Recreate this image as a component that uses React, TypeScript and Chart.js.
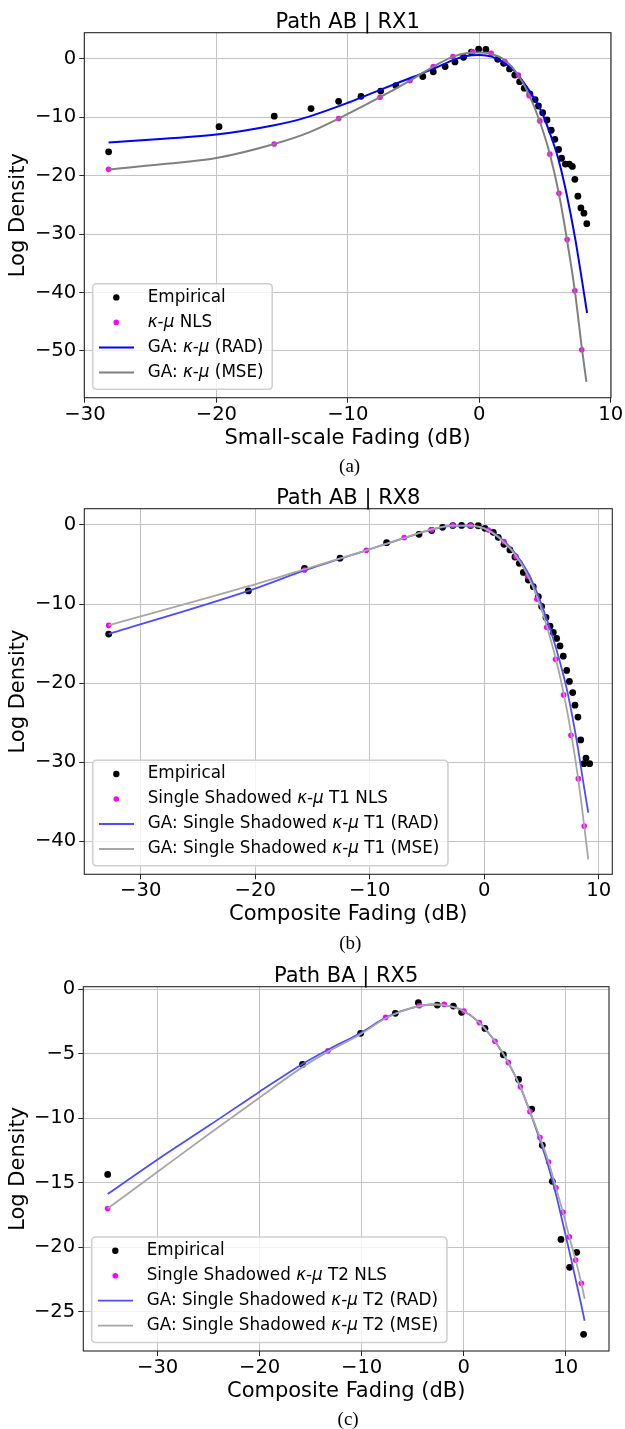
import React, { useEffect, useRef } from "react";
import { Chart, registerables } from "chart.js";

Chart.register(...registerables);

const SANS = '"DejaVu Sans", "Liberation Sans", sans-serif';
const SERIF = '"Liberation Serif", "DejaVu Serif", serif';

// ---------------- Panel (a) ----------------
const titleA = "Path AB | RX1";
const captionA = "(a)";
const xLabelA = "Small-scale Fading (dB)";
const xTicksA = [-30, -20, -10, 0, 10];
const yTicksA = [0, -10, -20, -30, -40, -50];
const labelsA = ["Empirical", "κ-μ NLS", "GA: κ-μ (RAD)", "GA: κ-μ (MSE)"];
const empAx = [-28.2, -19.8, -15.6, -12.8, -10.7, -9.0, -7.5, -6.35, -4.3, -3.5, -2.6, -1.85, -1.2, -0.6, -0.05, 0.5, 1.4, 1.85, 2.3, 2.7, 3.07, 3.42, 3.85, 4.25, 4.5, 4.82, 5.15, 5.47, 5.75, 6.03, 6.26, 6.55, 6.85, 7.08, 7.27, 7.5, 7.73, 7.96, 8.18];
const empAy = [-15.9, -11.6, -9.8, -8.5, -7.25, -6.4, -5.5, -4.55, -3.0, -2.2, -1.3, -0.5, 0.3, 1.15, 1.68, 1.63, -0.05, -0.75, -1.7, -2.75, -3.88, -5.0, -6.0, -6.95, -8.05, -9.2, -10.45, -12.2, -13.75, -15.5, -17.0, -18.0, -18.0, -18.4, -20.6, -23.5, -25.5, -26.4, -28.2];
const nlsAx = [-28.2, -15.6, -10.7, -7.55, -5.27, -3.5, -2.0, -0.5, 0.9, 1.95, 2.97, 3.8, 4.61, 5.37, 6.06, 6.68, 7.27, 7.8];
const nlsAy = [-18.9, -14.55, -10.2, -6.55, -3.7, -1.3, 0.4, 1.25, 0.97, -0.45, -2.74, -6.3, -10.6, -16.3, -23.0, -30.9, -39.7, -49.8];
const radAx = [-28.2, -24, -20, -15.6, -13.6, -10, -7.55, -5, -3.5, -2, -1, 0, 0.94, 1.82, 2.6, 3.34, 4.1, 4.73, 5.37, 6.0, 6.63, 7.3, 7.77, 8.2];
const radAy = [-14.3, -13.65, -12.95, -11.35, -10.3, -7.5, -5.3, -3.04, -1.7, -0.2, 0.5, 0.68, 0.4, -0.57, -1.9, -3.9, -6.45, -9.0, -12.7, -17.0, -23.0, -30.8, -37.3, -43.5];
const mseAx = [-28.2, -24, -20, -15.6, -13, -10.7, -7.55, -5.27, -3.5, -2, -1, 0, 0.94, 2.0, 2.94, 3.8, 4.6, 5.37, 6.05, 6.66, 7.27, 7.82, 8.15];
const mseAy = [-18.9, -18.0, -16.95, -14.55, -12.6, -10.2, -6.55, -3.7, -1.3, 0.4, 1.0, 1.1, 0.86, -0.3, -2.7, -6.2, -10.7, -16.3, -23.0, -30.8, -39.7, -49.8, -55.3];

// ---------------- Panel (b) ----------------
const titleB = "Path AB | RX8";
const captionB = "(b)";
const xLabelB = "Composite Fading (dB)";
const xTicksB = [-30, -20, -10, 0, 10];
const yTicksB = [0, -10, -20, -30, -40];
const labelsB = ["Empirical", "Single Shadowed κ-μ T1 NLS", "GA: Single Shadowed κ-μ T1 (RAD)", "GA: Single Shadowed κ-μ T1 (MSE)"];
const empBx = [-32.8, -20.6, -15.7, -12.6, -8.53, -5.7, -4.6, -3.64, -2.75, -1.98, -1.2, -0.52, 0.06, 0.79, 1.22, 1.72, 2.24, 2.68, 3.06, 3.41, 3.85, 4.28, 4.72, 5.01, 5.39, 5.74, 6.03, 6.32, 6.61, 6.9, 7.2, 7.43, 7.72, 7.92, 8.18, 8.42, 8.88, 8.7, 9.2];
const empBy = [-13.8, -8.35, -5.5, -4.2, -2.24, -1.18, -0.7, -0.3, -0.08, -0.05, -0.08, -0.1, -0.42, -0.93, -1.56, -2.45, -3.16, -4.05, -4.85, -6.0, -6.96, -7.8, -9.07, -10.3, -11.7, -12.8, -13.6, -14.35, -15.3, -16.6, -18.4, -19.8, -21.2, -22.8, -24.3, -27.2, -29.5, -30.2, -30.2];
const nlsBx = [-32.8, -15.7, -10.3, -6.99, -4.6, -2.76, -1.19, 0.35, 1.72, 2.77, 3.79, 4.6, 5.45, 6.23, 6.93, 7.57, 8.21, 8.73];
const nlsBy = [-12.7, -5.7, -3.2, -1.6, -0.6, -0.08, -0.1, -0.65, -2.1, -4.0, -6.46, -9.4, -12.95, -17.0, -21.5, -26.6, -32.1, -38.1];
const radBx = [-32.8, -20.6, -15.7, -10.3, -7, -4.6, -2.75, -1.2, 0.35, 1.66, 2.77, 3.8, 4.7, 5.45, 6.0, 6.6, 7.2, 7.7, 8.2, 8.65, 9.08];
const radBy = [-13.8, -8.35, -5.75, -3.2, -1.65, -0.6, -0.1, -0.12, -0.6, -1.95, -3.7, -6.0, -8.9, -11.9, -14.3, -17.3, -20.7, -24.3, -28.4, -32.6, -36.4];
const mseBx = [-32.8, -20.6, -15.7, -10.3, -7, -4.6, -2.75, -1.2, 0.35, 1.66, 2.77, 3.8, 4.7, 5.5, 6.26, 6.96, 7.6, 8.2, 8.73, 9.08];
const mseBy = [-12.7, -7.75, -5.6, -3.2, -1.65, -0.55, -0.08, -0.08, -0.68, -2.1, -3.9, -6.4, -9.45, -13.0, -17.0, -21.5, -26.5, -32.1, -38.1, -42.3];

// ---------------- Panel (c) ----------------
const titleC = "Path BA | RX5";
const captionC = "(c)";
const xLabelC = "Composite Fading (dB)";
const xTicksC = [-30, -20, -10, 0, 10];
const yTicksC = [0, -5, -10, -15, -20, -25];
const labelsC = ["Empirical", "Single Shadowed κ-μ T2 NLS", "GA: Single Shadowed κ-μ T2 (RAD)", "GA: Single Shadowed κ-μ T2 (MSE)"];
const empCx = [-34.9, -15.8, -10.1, -6.7, -4.44, -2.58, -1.01, -0.2, 2.09, 3.89, 5.39, 6.67, 7.71, 8.69, 9.54, 10.39, 11.08, 11.76];
const empCy = [-14.36, -5.84, -3.43, -1.88, -1.06, -1.24, -1.32, -1.8, -3.05, -5.09, -7.0, -9.3, -12.1, -14.9, -19.4, -21.56, -20.4, -26.75];
const nlsCx = [-34.9, -13.3, -7.65, -4.35, -1.9, 0.03, 1.54, 3.07, 4.38, 5.56, 6.5, 7.48, 8.33, 9.05, 9.74, 10.36, 10.98, 11.54];
const nlsCy = [-17.0, -4.78, -2.2, -1.29, -1.19, -1.7, -2.6, -4.05, -5.7, -7.57, -9.5, -11.5, -13.4, -15.4, -17.3, -19.2, -21.0, -22.8];
const radCx = [-34.9, -30, -25, -20, -15.8, -13.3, -10.1, -7.6, -5, -3, -1.5, 0, 1.54, 3.07, 4.38, 5.56, 6.5, 7.48, 8.33, 9.05, 9.74, 10.36, 10.98, 11.54, 11.86];
const radCy = [-15.88, -13.2, -10.6, -7.95, -5.8, -4.7, -3.4, -2.2, -1.45, -1.2, -1.3, -1.7, -2.6, -4.05, -5.7, -7.6, -9.5, -11.7, -13.8, -15.9, -18.2, -20.3, -22.5, -24.5, -25.7];
const mseCx = [-34.9, -30, -25, -20, -15.8, -13.3, -10.1, -7.6, -5, -3, -1.5, 0, 1.54, 3.07, 4.38, 5.56, 6.5, 7.48, 8.33, 9.05, 9.74, 10.36, 10.98, 11.54, 11.86];
const mseCy = [-17.0, -14.15, -11.25, -8.4, -6.05, -4.85, -3.5, -2.25, -1.45, -1.2, -1.3, -1.7, -2.6, -4.05, -5.7, -7.57, -9.5, -11.5, -13.4, -15.4, -17.3, -19.2, -21.0, -22.8, -24.0];

type Panel = {
  top: number; height: number;
  padTop: number; padRight: number; padBottom: number; areaLeft: number;
  xMin: number; xMax: number; yMin: number; yMax: number;
  xTicks: number[]; yTicks: number[];
  title: string; caption: string; xLabel: string; labels: string[];
  emp: [number[], number[]]; nls: [number[], number[]]; rad: [number[], number[]]; mse: [number[], number[]];
  radColor: string; mseColor: string; lw: number;
};

const XAXIS_H = 53.2;

const panels: Panel[] = [
  {
    top: 0, height: 480, padTop: 32.7, padRight: 14, padBottom: 480 - 397.7 - XAXIS_H, areaLeft: 84.3,
    xMin: -30.05, xMax: 10.02, yMin: -58.0, yMax: 4.5, xTicks: xTicksA, yTicks: yTicksA,
    title: titleA, caption: captionA, xLabel: xLabelA, labels: labelsA,
    emp: [empAx, empAy], nls: [nlsAx, nlsAy], rad: [radAx, radAy], mse: [mseAx, mseAy],
    radColor: "#0000ff", mseColor: "#808080", lw: 2,
  },
  {
    top: 480, height: 480, padTop: 28.7, padRight: 12.7, padBottom: 480 - 394.3 - XAXIS_H, areaLeft: 84.3,
    xMin: -34.93, xMax: 11.18, yMin: -44.2, yMax: 2.06, xTicks: xTicksB, yTicks: yTicksB,
    title: titleB, caption: captionB, xLabel: xLabelB, labels: labelsB,
    emp: [empBx, empBy], nls: [nlsBx, nlsBy], rad: [radBx, radBy], mse: [mseBx, mseBy],
    radColor: "#4d4dff", mseColor: "#a6a6a6", lw: 1.8,
  },
  {
    top: 960, height: 469, padTop: 26.7, padRight: 16, padBottom: 469 - 391 - XAXIS_H, areaLeft: 83.3,
    xMin: -37.29, xMax: 14.25, yMin: -28.04, yMax: 0.18, xTicks: xTicksC, yTicks: yTicksC,
    title: titleC, caption: captionC, xLabel: xLabelC, labels: labelsC,
    emp: [empCx, empCy], nls: [nlsCx, nlsCy], rad: [radCx, radCy], mse: [mseCx, mseCy],
    radColor: "#4d4dff", mseColor: "#a6a6a6", lw: 1.8,
  },
];

const toPts = (xs: number[], ys: number[]) => xs.map((x, i) => ({ x, y: ys[i] }));
const fmt = (v: number) => (v < 0 ? "\u2212" + Math.abs(v) : String(v));

function segs(label: string) {
  const out: { t: string; i: boolean }[] = [];
  let cur = "";
  let curI = false;
  for (const ch of label) {
    const it = ch === "κ" || ch === "μ";
    if (cur && it !== curI) {
      out.push({ t: cur, i: curI });
      cur = "";
    }
    curI = it;
    cur += ch;
  }
  if (cur) out.push({ t: cur, i: curI });
  return out;
}

const LEG_SIZE = 16.8;

const decorPlugin = {
  id: "decor",
  afterDatasetsDraw(chart: any) {
    const { ctx, chartArea: a } = chart;
    ctx.save();
    ctx.strokeStyle = "#262626";
    ctx.lineWidth = 1.1;
    ctx.strokeRect(a.left, a.top, a.right - a.left, a.bottom - a.top);
    ctx.restore();
  },
  afterDraw(chart: any, _args: any, opts: any) {
    const { ctx, chartArea: a } = chart;
    ctx.save();
    // title
    ctx.fillStyle = "#000";
    ctx.font = `21px ${SANS}`;
    ctx.textAlign = "center";
    ctx.textBaseline = "alphabetic";
    ctx.fillText(opts.title, (a.left + a.right) / 2, a.top - 5.2);
    // caption
    ctx.font = `19px ${SERIF}`;
    ctx.textBaseline = "middle";
    ctx.fillText(opts.caption, (a.left + a.right) / 2 + 2, a.bottom + 69.5);

    // legend
    const ds = chart.data.datasets;
    const fontN = `${LEG_SIZE}px ${SANS}`;
    const fontI = `italic ${LEG_SIZE}px ${SANS}`;
    const measure = (label: string) => {
      let w = 0;
      for (const s of segs(label)) {
        ctx.font = s.i ? fontI : fontN;
        w += ctx.measureText(s.t).width;
      }
      return w;
    };
    let maxW = 0;
    ds.forEach((d: any) => { maxW = Math.max(maxW, measure(d.label)); });
    const left = a.left + 8.4;
    const bottom = a.bottom - 8.5;
    const h = 105.5;
    const top = bottom - h;
    const w = 55 + maxW + 8.6;
    const r = 4;
    ctx.beginPath();
    ctx.moveTo(left + r, top);
    ctx.lineTo(left + w - r, top);
    ctx.quadraticCurveTo(left + w, top, left + w, top + r);
    ctx.lineTo(left + w, bottom - r);
    ctx.quadraticCurveTo(left + w, bottom, left + w - r, bottom);
    ctx.lineTo(left + r, bottom);
    ctx.quadraticCurveTo(left, bottom, left, bottom - r);
    ctx.lineTo(left, top + r);
    ctx.quadraticCurveTo(left, top, left + r, top);
    ctx.closePath();
    ctx.fillStyle = "rgba(255,255,255,0.8)";
    ctx.fill();
    ctx.strokeStyle = "#d0d0d0";
    ctx.lineWidth = 1.6;
    ctx.stroke();

    ds.forEach((d: any, i: number) => {
      const y = top + 13.7 + 25 * i;
      if (d.type === "line") {
        ctx.strokeStyle = d.borderColor;
        ctx.lineWidth = d.borderWidth;
        ctx.beginPath();
        ctx.moveTo(left + 6.3, y);
        ctx.lineTo(left + 41.3, y);
        ctx.stroke();
      } else {
        ctx.fillStyle = d.backgroundColor;
        ctx.beginPath();
        ctx.arc(left + 23.6, y, d.legendRadius, 0, Math.PI * 2);
        ctx.fill();
      }
      let x = left + 55;
      ctx.fillStyle = "#000";
      ctx.textAlign = "left";
      ctx.textBaseline = "middle";
      for (const s of segs(d.label)) {
        ctx.font = s.i ? fontI : fontN;
        ctx.fillText(s.t, x, y);
        x += ctx.measureText(s.t).width;
      }
    });
    ctx.restore();
  },
};

function PanelChart({ p }: { p: Panel }) {
  const ref = useRef<HTMLCanvasElement | null>(null);
  useEffect(() => {
    if (!ref.current) return;
    const tickFont = { family: SANS, size: 19.6 };
    const gridCfg = { color: "#c4c4c4", lineWidth: 1, tickColor: "#262626", tickLength: 5, drawTicks: true };
    const chart = new Chart(ref.current, {
      type: "scatter",
      data: {
        datasets: [
          {
            type: "scatter", label: p.labels[0], data: toPts(p.emp[0], p.emp[1]),
            backgroundColor: "#000000", borderWidth: 0, pointRadius: 3.4, pointHoverRadius: 3.4, order: 4,
            legendRadius: 3.2,
          } as any,
          {
            type: "scatter", label: p.labels[1], data: toPts(p.nls[0], p.nls[1]),
            backgroundColor: "#ff00ff", borderWidth: 0, pointRadius: 2.8, pointHoverRadius: 2.8, order: 3,
            legendRadius: 2.8,
          } as any,
          {
            type: "line", label: p.labels[2], data: toPts(p.rad[0], p.rad[1]),
            borderColor: p.radColor, borderWidth: p.lw, pointRadius: 0, fill: false,
            cubicInterpolationMode: "monotone", order: 2,
          } as any,
          {
            type: "line", label: p.labels[3], data: toPts(p.mse[0], p.mse[1]),
            borderColor: p.mseColor, borderWidth: p.lw, pointRadius: 0, fill: false,
            cubicInterpolationMode: "monotone", order: 1,
          } as any,
        ],
      },
      options: {
        animation: false,
        responsive: false,
        devicePixelRatio: 1,
        events: [],
        layout: { padding: { top: p.padTop, right: p.padRight, bottom: p.padBottom, left: 0 } },
        plugins: {
          legend: { display: false },
          tooltip: { enabled: false },
          title: { display: false },
          decor: { title: p.title, caption: p.caption },
        } as any,
        scales: {
          x: {
            type: "linear",
            min: p.xMin,
            max: p.xMax,
            afterBuildTicks: (s: any) => { s.ticks = p.xTicks.map((v) => ({ value: v })); },
            afterFit: (s: any) => { s.height = XAXIS_H; },
            grid: gridCfg,
            border: { display: false },
            ticks: { font: tickFont, color: "#000", padding: 0, maxRotation: 0, autoSkip: false, callback: (v: any) => fmt(Number(v)) },
            title: { display: true, text: p.xLabel, font: { family: SANS, size: 21 }, color: "#000", padding: 0 },
          },
          y: {
            type: "linear",
            min: p.yMin,
            max: p.yMax,
            afterBuildTicks: (s: any) => { s.ticks = p.yTicks.map((v) => ({ value: v })); },
            afterFit: (s: any) => { s.width = p.areaLeft; },
            grid: gridCfg,
            border: { display: false },
            ticks: { font: tickFont, color: "#000", padding: 3, autoSkip: false, callback: (v: any) => fmt(Number(v)) },
            title: { display: true, text: "Log Density", font: { family: SANS, size: 21 }, color: "#000", padding: { top: 5.9, bottom: 0 } },
          },
        } as any,
      } as any,
      plugins: [decorPlugin as any],
    });
    return () => chart.destroy();
  }, [p]);
  return (
    <canvas
      ref={ref}
      width={625}
      height={p.height}
      style={{ position: "absolute", left: 0, top: p.top, width: 625, height: p.height, display: "block" }}
    />
  );
}

export default function App() {
  return (
    <div style={{ position: "absolute", left: 0, top: 0, width: 625, height: 1429, background: "#fff", overflow: "hidden" }}>
      {panels.map((p, i) => (
        <PanelChart key={i} p={p} />
      ))}
    </div>
  );
}
